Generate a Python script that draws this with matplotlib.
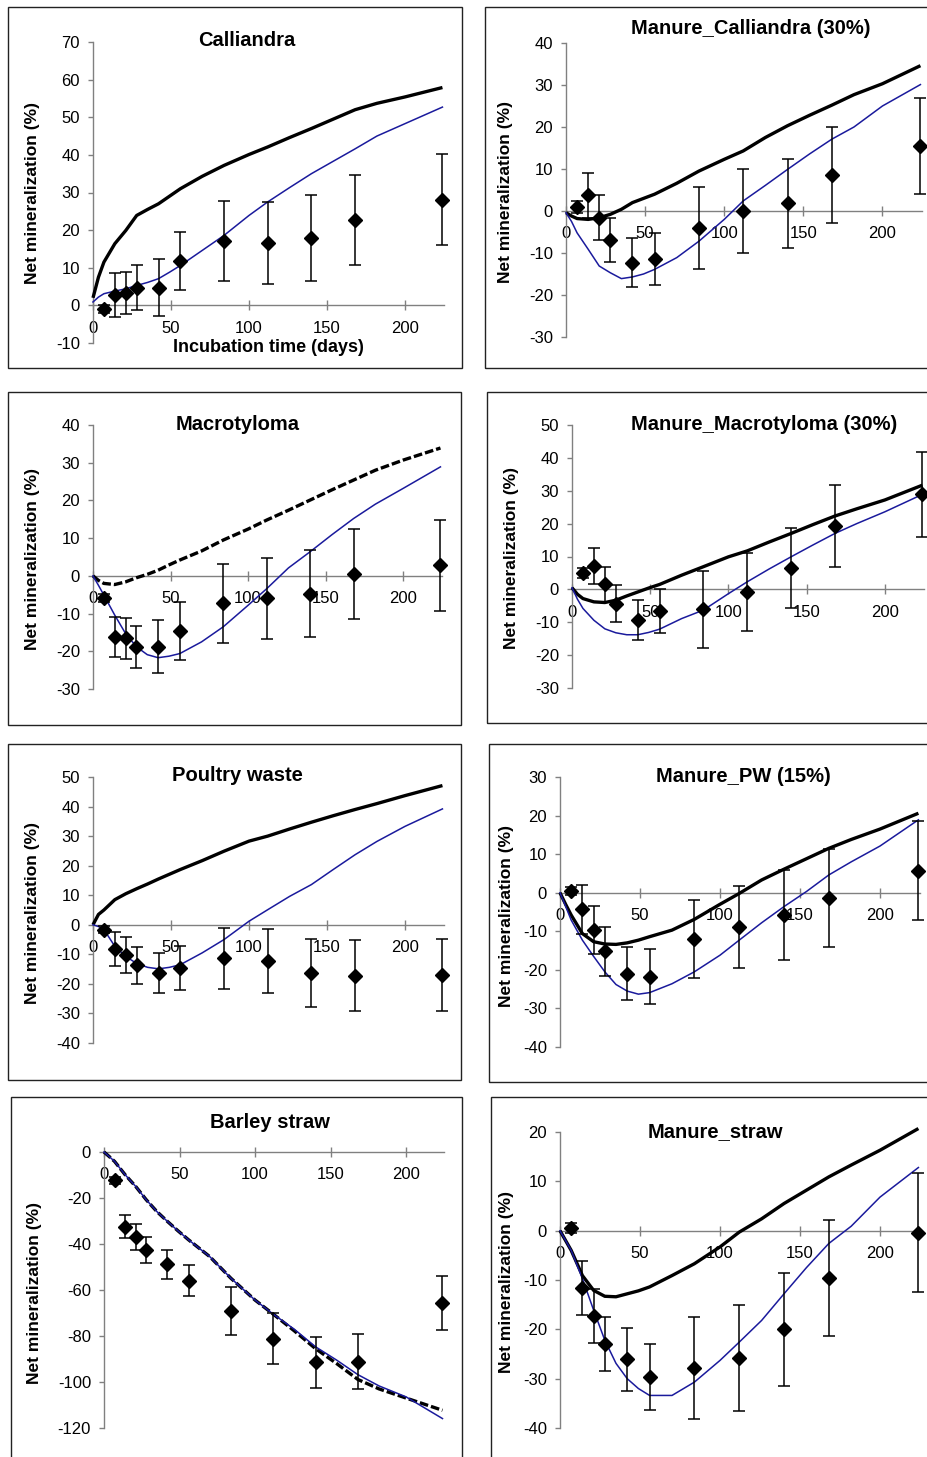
import matplotlib
matplotlib.use("Agg")
import matplotlib.pyplot as plt
from matplotlib.patches import Rectangle

plt.rcParams['font.family'] = ['Liberation Sans', 'DejaVu Sans']
plt.rcParams['axes.unicode_minus'] = False

# ---------------- data ----------------
obs_days = [7, 14, 21, 28, 42, 56, 84, 112, 140, 168, 224]
model_days = [0, 3.5, 7, 14, 21, 28, 35, 42, 49, 56, 70, 84, 100, 112, 126, 140, 154, 168, 182, 200, 224]

titles = ["Calliandra", "Manure_Calliandra (30%)", "Macrotyloma", "Manure_Macrotyloma (30%)",
          "Poultry waste", "Manure_PW (15%)", "Barley straw", "Manure_straw"]

calliandra_obs = [-0.9, 2.7, 3.4, 4.7, 4.7, 11.7, 17.1, 16.6, 17.9, 22.6, 28.1]
calliandra_err = [1.0, 5.8, 5.6, 6.0, 7.5, 7.7, 10.6, 11.0, 11.5, 12.0, 12.0]
calliandra_black = [2.0, 7.5, 11.5, 16.4, 19.9, 23.9, 25.5, 27.0, 29.0, 31.0, 34.3, 37.2, 40.1, 42.1, 44.6, 47.0, 49.5, 52.0, 53.7, 55.4, 57.9]
calliandra_blue = [0.9, 2.2, 3.1, 3.8, 4.4, 5.3, 6.1, 7.1, 8.8, 10.6, 14.6, 18.6, 23.9, 27.5, 31.3, 35.0, 38.3, 41.6, 45.0, 48.3, 52.7]

man_cal_obs = [1.0, 3.7, -1.6, -6.9, -12.3, -11.5, -4.0, 0.0, 1.8, 8.6, 15.5]
man_cal_err = [1.5, 5.3, 5.3, 5.3, 5.9, 6.2, 9.8, 9.9, 10.5, 11.5, 11.5]
man_cal_black = [-0.4, -1.2, -1.8, -2.0, -1.6, -0.8, 0.4, 2.0, 3.0, 4.0, 6.6, 9.5, 12.3, 14.3, 17.5, 20.3, 22.8, 25.2, 27.7, 30.3, 34.6]
man_cal_blue = [-0.4, -2.5, -5.2, -9.1, -13.1, -14.7, -16.1, -15.7, -15.0, -13.9, -11.1, -7.2, -2.0, 2.4, 6.1, 9.9, 13.6, 17.1, 20.0, 25.0, 30.1]

macro_obs = [-5.8, -16.2, -16.6, -18.8, -18.8, -14.6, -7.3, -6.0, -4.7, 0.4, 2.8]
macro_err = [1.0, 5.3, 5.5, 5.6, 7.0, 7.6, 10.5, 10.8, 11.5, 11.9, 12.0]
macro_black = [0.0, -1.2, -2.0, -2.3, -1.6, -0.5, 0.4, 1.5, 2.9, 4.2, 6.6, 9.5, 12.4, 14.8, 17.4, 20.1, 22.8, 25.4, 28.0, 30.7, 33.9]
macro_blue = [0.0, -2.5, -5.1, -10.4, -15.3, -18.8, -20.9, -21.7, -21.3, -20.6, -17.5, -13.5, -7.8, -3.4, 2.1, 6.4, 10.9, 15.2, 19.0, 23.2, 28.9]

man_mac_obs = [5.0, 7.1, 1.6, -4.3, -9.2, -6.6, -6.1, -0.8, 6.5, 19.2, 28.9]
man_mac_err = [1.5, 5.5, 5.3, 5.7, 6.1, 6.6, 11.6, 11.9, 12.1, 12.5, 12.9]
man_mac_black = [0.5, -1.5, -2.8, -3.8, -4.0, -3.3, -2.0, -0.8, 0.4, 1.5, 4.3, 6.9, 9.9, 11.7, 14.4, 17.0, 19.7, 22.3, 24.5, 27.2, 31.7]
man_mac_blue = [0.5, -3.0, -5.8, -9.4, -12.0, -13.2, -13.8, -13.8, -13.1, -12.1, -8.9, -6.3, -1.3, 2.3, 6.2, 9.9, 13.5, 17.0, 20.0, 23.6, 28.9]

poultry_obs = [-1.6, -8.2, -10.1, -13.7, -16.3, -14.6, -11.4, -12.3, -16.3, -17.2, -16.9]
poultry_err = [1.2, 5.8, 6.1, 6.2, 6.9, 7.4, 10.2, 10.8, 11.4, 12.0, 12.2]
poultry_black = [0.0, 3.5, 5.0, 8.5, 10.5, 12.2, 13.8, 15.5, 17.1, 18.7, 21.7, 24.9, 28.3, 30.0, 32.4, 34.7, 36.9, 39.0, 41.0, 43.7, 47.1]
poultry_blue = [0.0, -0.6, -1.6, -7.3, -10.7, -13.1, -14.4, -14.9, -14.4, -13.5, -9.5, -5.0, 1.2, 5.1, 9.6, 13.6, 18.7, 23.7, 28.2, 33.3, 39.2]

man_pw_obs = [0.4, -4.3, -9.7, -15.2, -21.0, -21.8, -12.1, -8.8, -5.8, -1.3, 5.7]
man_pw_err = [1.0, 6.3, 6.2, 6.4, 6.9, 7.1, 10.1, 10.6, 11.6, 12.7, 12.9]
man_pw_black = [0.0, -3.0, -5.8, -10.6, -12.7, -13.3, -13.4, -13.0, -12.3, -11.4, -9.7, -6.9, -3.0, -0.2, 3.3, 6.1, 8.8, 11.5, 13.8, 16.5, 20.6]
man_pw_blue = [0.0, -3.5, -7.1, -12.3, -16.5, -20.5, -23.8, -25.5, -26.3, -25.9, -23.6, -20.5, -16.2, -12.3, -7.8, -3.6, 0.3, 4.6, 8.0, 12.1, 18.9]

barley_obs = [-12.3, -32.4, -37.0, -42.6, -48.8, -55.9, -69.2, -81.1, -91.5, -91.2, -65.8]
barley_err = [1.5, 5.1, 5.6, 5.6, 6.3, 6.7, 10.5, 10.9, 11.1, 12.0, 11.8]
barley_black = [0.0, -2.0, -4.1, -9.9, -15.0, -20.8, -25.9, -30.2, -34.3, -38.2, -45.5, -54.9, -64.4, -70.5, -77.8, -85.5, -92.0, -98.9, -103.0, -107.0, -112.3]
barley_blue = [0.0, -2.0, -4.1, -9.9, -15.0, -20.8, -25.9, -30.2, -34.3, -38.2, -45.5, -54.9, -64.4, -70.5, -77.1, -84.7, -90.5, -96.8, -101.7, -106.5, -115.9]

man_straw_obs = [0.6, -11.6, -17.3, -22.9, -26.1, -29.7, -27.8, -25.8, -20.0, -9.6, -0.4]
man_straw_err = [1.0, 5.5, 5.5, 5.5, 6.3, 6.7, 10.4, 10.8, 11.4, 11.7, 12.1]
man_straw_black = [0.0, -2.0, -4.0, -9.1, -12.1, -13.3, -13.4, -12.8, -12.2, -11.4, -9.1, -6.7, -3.3, -0.3, 2.4, 5.5, 8.2, 10.9, 13.3, 16.3, 20.7]
man_straw_blue = [0.0, -2.0, -4.0, -9.7, -16.1, -22.2, -26.9, -30.0, -32.0, -33.4, -33.4, -30.7, -26.3, -22.6, -18.2, -12.8, -7.5, -2.6, 0.9, 6.8, 12.8]

y_ranges = [(-10, 70, 10), (-30, 40, 10), (-30, 40, 10), (-30, 50, 10),
            (-40, 50, 10), (-40, 30, 10), (-120, 0, 20), (-40, 20, 10)]
x_ticks = [0, 50, 100, 150, 200]

panels = [
    (calliandra_obs, calliandra_err, calliandra_black, calliandra_blue, False),
    (man_cal_obs, man_cal_err, man_cal_black, man_cal_blue, False),
    (macro_obs, macro_err, macro_black, macro_blue, True),
    (man_mac_obs, man_mac_err, man_mac_black, man_mac_blue, False),
    (poultry_obs, poultry_err, poultry_black, poultry_blue, False),
    (man_pw_obs, man_pw_err, man_pw_black, man_pw_blue, False),
    (barley_obs, barley_err, barley_black, barley_blue, True),
    (man_straw_obs, man_straw_err, man_straw_black, man_straw_blue, False),
]

# ---------------- layout (pixels) ----------------
W, H = 928, 1457
ax_px = [(93, 444, 42, 343), (566, 922, 43, 337),
         (93, 442, 425, 689), (572, 924, 425, 688),
         (93, 444, 777, 1043), (560, 920, 777, 1047),
         (104, 444, 1152, 1428), (560, 920, 1132, 1428)]
frame_px = [(8, 462, 7, 368), (485, 940, 7, 368),
            (8, 461, 392, 725), (487, 940, 392, 723),
            (8, 461, 744, 1080), (489, 940, 744, 1082),
            (11, 462, 1097, 1470), (491, 940, 1097, 1470)]
title_px = [(247, 40), (751, 29), (238, 424), (764, 424),
            (237, 776), (743, 777), (270, 1122), (715, 1132)]
ylabel_px = [(33, 193), (506, 192), (33, 559), (512, 558),
             (33, 913), (507, 916), (35, 1293), (507, 1282)]

fig = plt.figure(figsize=(W / 100, H / 100), dpi=100)
axis_color = '#808080'
navy = '#1a1a9c'

for i, (obs, err, blk, blu, dashed) in enumerate(panels):
    l, r, t, b = ax_px[i]
    ax = fig.add_axes([l / W, 1 - b / H, (r - l) / W, (b - t) / H])
    ax.patch.set_alpha(0)
    ymin, ymax, ystep = y_ranges[i]
    ax.set_xlim(0, 225)
    ax.set_ylim(ymin, ymax)
    ax.set_yticks(list(range(ymin, ymax + 1, ystep)))
    ax.set_xticks(x_ticks)
    for s in ('top', 'right'):
        ax.spines[s].set_visible(False)
    ax.spines['bottom'].set_position(('data', 0))
    for s in ('bottom', 'left'):
        ax.spines[s].set_color(axis_color)
        ax.spines[s].set_linewidth(1.0)
    ax.tick_params(axis='y', direction='out', length=3.8, width=1.0, color=axis_color,
                   labelsize=12, pad=5.5)
    ax.tick_params(axis='x', direction='inout', length=7, width=1.0, color=axis_color,
                   labelsize=12, pad=7.5)

    if dashed:
        ax.plot(model_days, blk, color='black', lw=2.4, dashes=(2.6, 0.9), zorder=3, clip_on=False)
    else:
        ax.plot(model_days, blk, color='black', lw=2.4, zorder=3, clip_on=False,
                solid_capstyle='butt')
    ax.plot(model_days, blu, color=navy, lw=1.1, zorder=4, clip_on=False)

    ax.errorbar(obs_days, obs, yerr=err, fmt='D', color='black', ms=7, mfc='black',
                mec='black', ecolor='black', elinewidth=1.1, capsize=4.5, capthick=1.1,
                zorder=5, clip_on=False)

    fx0, fx1, fy0, fy1 = frame_px[i]
    fig.add_artist(Rectangle((fx0 / W, 1 - fy1 / H), (fx1 - fx0) / W, (fy1 - fy0) / H,
                             transform=fig.transFigure, fill=False, lw=1.0,
                             ec='#222222'))
    tx, ty = title_px[i]
    fig.text(tx / W, 1 - ty / H, titles[i], ha='center', va='center',
             fontsize=14.5, fontweight='bold')
    lx, ly = ylabel_px[i]
    fig.text(lx / W, 1 - ly / H, "Net mineralization (%)", ha='center', va='center',
             rotation=90, fontsize=12.5, fontweight='bold')

fig.text(268 / W, 1 - 348 / H, "Incubation time (days)", ha='center', va='center',
         fontsize=13, fontweight='bold')

fig.savefig("out.png", dpi=100)
